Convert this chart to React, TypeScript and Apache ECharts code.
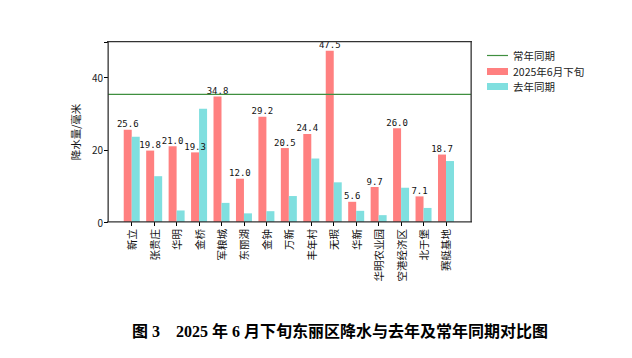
import React, { useEffect, useRef } from "react";
import * as echarts from "echarts";

const categories = ["新立", "张贵庄", "华明", "金桥", "军粮城", "东丽湖", "金钟", "万新", "丰年村", "无瑕", "华新", "华明农业园", "空港经济区", "北于堡", "赛艇基地"];
const thisYear = [25.6, 19.8, 21.0, 19.3, 34.8, 12.0, 29.2, 20.5, 24.4, 47.5, 5.6, 9.7, 26.0, 7.1, 18.7];
const lastYear = [23.6, 12.7, 3.2, 31.4, 5.3, 2.4, 3.0, 7.2, 17.6, 11.0, 3.1, 1.9, 9.5, 3.9, 16.9];
const normalValue = 35.4;
const yTicks = [0, 20, 40];
const seriesNames = ["常年同期", "2025年6月下旬", "去年同期"];
const titleText = "图 3　2025 年 6 月下旬东丽区降水与去年及常年同期对比图";

const FONT = "'Noto Sans CJK SC', sans-serif";
const RED = "#FF8080";
const CYAN = "#80DFDF";
const GREEN = "#3f8f3f";

export default function App() {
  const ref = useRef<HTMLDivElement>(null);
  useEffect(() => {
    if (!ref.current) return;
    const chart = echarts.init(ref.current, undefined, { renderer: "svg" });
    const yMax = 49.9;
    const legendX = 487;
    const legendText = { fontSize: 10.5, fill: "#222", fontFamily: FONT, textVerticalAlign: "middle" };
    chart.setOption({
      animation: false,
      backgroundColor: "#ffffff",
      textStyle: { fontFamily: FONT },
      title: {
        text: titleText,
        left: 127,
        top: 318,
        textStyle: { fontFamily: "'Liberation Serif', 'Noto Sans CJK SC', serif", fontWeight: "bold", fontSize: 16, color: "#000" },
      },
      graphic: [
        { type: "rect", shape: { x: 107, y: 41, width: 365, height: 1.3 }, style: { fill: "#333333" }, z: 100 },
        { type: "rect", shape: { x: 470.5, y: 41, width: 1.3, height: 181 }, style: { fill: "#333333" }, z: 100 },
        { type: "rect", shape: { x: 107.5, y: 41, width: 1.3, height: 181 }, style: { fill: "#333333" }, z: 100 },
        { type: "rect", shape: { x: 107, y: 221.3, width: 365, height: 1.3 }, style: { fill: "#333333" }, z: 100 },
        { type: "line", shape: { x1: legendX, y1: 55.5, x2: legendX + 21, y2: 55.5 }, style: { stroke: GREEN, lineWidth: 1.2 } },
        { type: "text", x: 513, y: 55.5, style: { text: seriesNames[0], ...legendText } },
        { type: "rect", shape: { x: legendX, y: 68, width: 21, height: 7 }, style: { fill: RED } },
        { type: "text", x: 513, y: 71.5, style: { text: seriesNames[1], ...legendText } },
        { type: "rect", shape: { x: legendX, y: 83, width: 21, height: 7 }, style: { fill: CYAN } },
        { type: "text", x: 513, y: 86.5, style: { text: seriesNames[2], ...legendText } },
      ],
      grid: [
        { left: 108, right: 161, top: 42, bottom: 136 },
        { left: 120.5, right: 174.8, top: 42, bottom: 136 },
      ],
      xAxis: [
        { type: "value", gridIndex: 0, min: 0, max: 1, show: false },
        {
          type: "category",
          gridIndex: 1,
          data: categories,
          axisLine: { show: false },
          axisTick: { show: true, alignWithLabel: true, length: 4, lineStyle: { color: "#000" } },
          axisLabel: { rotate: 90, fontSize: 10.5, color: "#111", margin: 7, interval: 0, fontFamily: FONT },
        },
      ],
      yAxis: [
        {
          type: "value",
          gridIndex: 0,
          min: 0,
          max: yMax,
          interval: 20,
          name: "降水量/毫米",
          nameLocation: "middle",
          nameGap: 19,
          nameTextStyle: { fontSize: 10.5, color: "#111", fontFamily: FONT },
          axisLine: { show: false },
          axisTick: { show: true, length: 4, lineStyle: { color: "#000" } },
          axisLabel: { fontSize: 10, color: "#222", margin: 5, formatter: (v: number) => (yTicks.includes(v) ? String(v) : "") },
          splitLine: { show: false },
        },
        { type: "value", gridIndex: 1, min: 0, max: yMax, show: false },
      ],
      series: [
        {
          name: seriesNames[0],
          type: "line",
          xAxisIndex: 0,
          yAxisIndex: 0,
          data: [[0, normalValue], [1, normalValue]],
          showSymbol: false,
          symbol: "none",
          lineStyle: { color: GREEN, width: 1.2 },
          itemStyle: { color: GREEN },
          z: 5,
        },
        {
          name: seriesNames[1],
          type: "bar",
          xAxisIndex: 1,
          yAxisIndex: 1,
          data: thisYear,
          barWidth: 8,
          barGap: "0%",
          itemStyle: { color: RED },
          label: {
            show: true,
            position: "top",
            distance: 1,
            fontSize: 9,
            color: "#111",
            fontFamily: "'DejaVu Sans Mono', monospace",
            formatter: (p: any) => Number(p.value).toFixed(1),
          },
        },
        {
          name: seriesNames[2],
          type: "bar",
          xAxisIndex: 1,
          yAxisIndex: 1,
          data: lastYear,
          barWidth: 8,
          barGap: "0%",
          itemStyle: { color: CYAN },
        },
      ],
    });
    return () => chart.dispose();
  }, []);
  return <div ref={ref} style={{ position: "absolute", left: 0, top: 0, width: 632, height: 358 }} />;
}
